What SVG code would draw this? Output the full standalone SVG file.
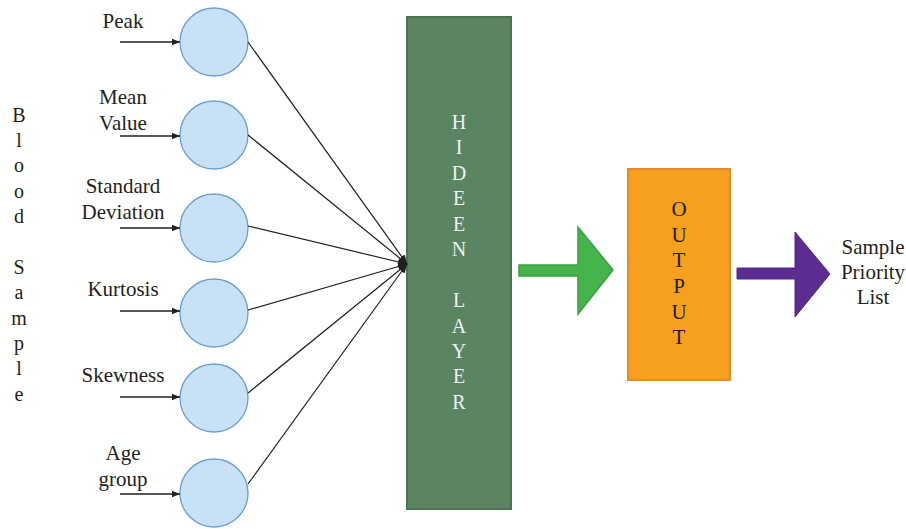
<svg xmlns="http://www.w3.org/2000/svg" width="906" height="529" viewBox="0 0 906 529">
<defs>
<style>
.lbl{font-family:"Liberation Serif",serif;font-size:21px;fill:#231f20;text-anchor:middle}
.vert{font-family:"Liberation Serif",serif;font-size:20px;fill:#231f20;text-anchor:middle}
.hid{font-family:"Liberation Serif",serif;font-size:20px;fill:#eef3ee;text-anchor:middle}
.out{font-family:"Liberation Serif",serif;font-size:21px;fill:#231f20;text-anchor:middle}
.node{fill:#c9e1f4;stroke:#6a9fd2;stroke-width:1.3}
.in{stroke:#231f20;stroke-width:1.3;fill:none;marker-end:url(#ah)}
.conn{stroke:#231f20;stroke-width:1.2;fill:none;marker-end:url(#ah2)}
</style>
<marker id="ah" viewBox="0 0 10 10" refX="10" refY="5" markerWidth="8" markerHeight="8" markerUnits="userSpaceOnUse" orient="auto"><path d="M0,1 L10,5 L0,9 z" fill="#231f20"/></marker>
<marker id="ah2" viewBox="0 0 10 10" refX="10" refY="5" markerWidth="9" markerHeight="9" markerUnits="userSpaceOnUse" orient="auto"><path d="M0,1 L10,5 L0,9 z" fill="#231f20"/></marker>
</defs>
<rect width="906" height="529" fill="#ffffff"/>

<g id="blood-sample">
<text class="vert" x="19" y="122">B</text>
<text class="vert" x="19" y="147">l</text>
<text class="vert" x="19" y="172">o</text>
<text class="vert" x="19" y="198">o</text>
<text class="vert" x="19" y="223">d</text>
<text class="vert" x="19" y="274">S</text>
<text class="vert" x="19" y="299">a</text>
<text class="vert" x="19" y="325">m</text>
<text class="vert" x="19" y="350">p</text>
<text class="vert" x="19" y="375">l</text>
<text class="vert" x="19" y="401">e</text>
</g>

<g id="labels">
<text class="lbl" x="123" y="28">Peak</text>
<text class="lbl" x="123" y="104">Mean</text>
<text class="lbl" x="123" y="130">Value</text>
<text class="lbl" x="123" y="193">Standard</text>
<text class="lbl" x="123" y="219">Deviation</text>
<text class="lbl" x="123" y="296">Kurtosis</text>
<text class="lbl" x="123" y="382">Skewness</text>
<text class="lbl" x="123" y="460">Age</text>
<text class="lbl" x="123" y="486">group</text>
</g>

<g id="n-peak"><circle class="node" cx="214" cy="42" r="34"/></g>
<g id="n-mean"><circle class="node" cx="214" cy="135" r="34"/></g>
<g id="n-std"><circle class="node" cx="214" cy="228" r="34"/></g>
<g id="n-kurt"><circle class="node" cx="214" cy="313" r="34"/></g>
<g id="n-skew"><circle class="node" cx="214" cy="398" r="34"/></g>
<g id="n-age"><circle class="node" cx="214" cy="493" r="34"/></g>

<g id="hidden-layer">
<rect x="407" y="17" width="104" height="492" fill="#5a8462" stroke="#4a7352" stroke-width="2"/>
<text class="hid" x="459" y="129">H</text>
<text class="hid" x="459" y="154">I</text>
<text class="hid" x="459" y="180">D</text>
<text class="hid" x="459" y="205">E</text>
<text class="hid" x="459" y="231">E</text>
<text class="hid" x="459" y="256">N</text>
<text class="hid" x="459" y="307">L</text>
<text class="hid" x="459" y="333">A</text>
<text class="hid" x="459" y="358">Y</text>
<text class="hid" x="459" y="383">E</text>
<text class="hid" x="459" y="409">R</text>
</g>

<g id="output">
<rect x="628" y="169" width="102" height="211" fill="#f7a01f" stroke="#e48a2a" stroke-width="2"/>
<text class="out" x="679" y="216">O</text>
<text class="out" x="679" y="242">U</text>
<text class="out" x="679" y="267">T</text>
<text class="out" x="679" y="293">P</text>
<text class="out" x="679" y="319">U</text>
<text class="out" x="679" y="344">T</text>
</g>

<g id="result">
<text class="out" x="873" y="254">Sample</text>
<text class="out" x="873" y="279">Priority</text>
<text class="out" x="873" y="304">List</text>
</g>

<g id="connectors">
<line class="in" x1="120" y1="42" x2="180" y2="42"/>
<line class="in" x1="120" y1="136" x2="180" y2="136"/>
<line class="in" x1="120" y1="228" x2="180" y2="228"/>
<line class="in" x1="120" y1="311" x2="180" y2="311"/>
<line class="in" x1="120" y1="397" x2="180" y2="397"/>
<line class="in" x1="120" y1="494" x2="180" y2="494"/>
<line class="conn" x1="248" y1="42" x2="407" y2="264"/>
<line class="conn" x1="248" y1="135" x2="407" y2="264"/>
<line class="conn" x1="248" y1="226" x2="407" y2="264"/>
<line class="conn" x1="248" y1="310" x2="407" y2="264"/>
<line class="conn" x1="248" y1="393" x2="407" y2="264"/>
<line class="conn" x1="248" y1="484" x2="407" y2="264"/>
<path d="M519,265 L578,265 L578,227 L613,270 L578,314 L578,276 L519,276 Z" fill="#44b44b" stroke="#3aa046" stroke-width="1.5"/>
<path d="M737,268 L795,268 L795,232 L830,274 L795,317 L795,279 L737,279 Z" fill="#5b2d91" stroke="#52288a" stroke-width="1"/>
</g>
</svg>
